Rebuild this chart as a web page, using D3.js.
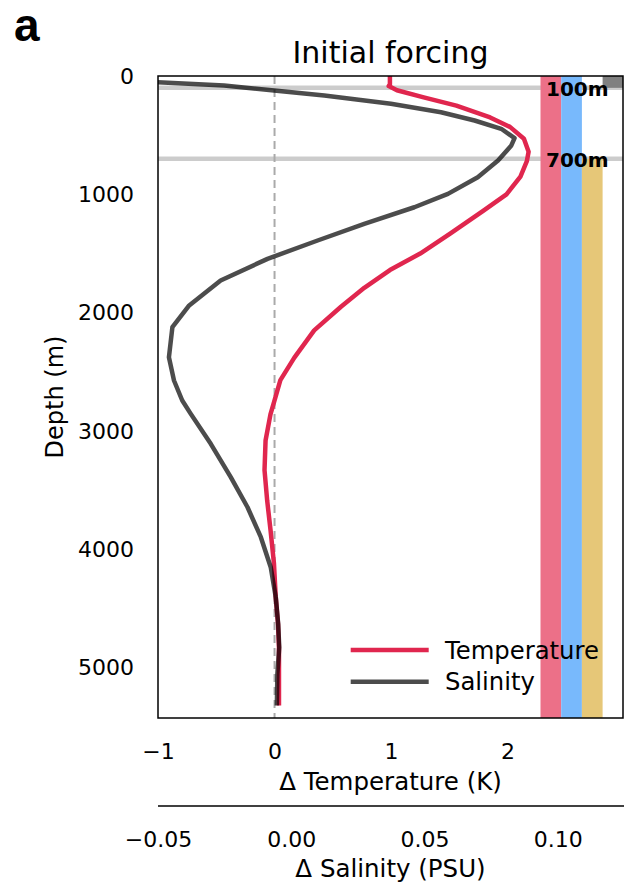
<!DOCTYPE html>
<html>
<head>
<meta charset="utf-8">
<script src="https://cdn.jsdelivr.net/npm/d3@7"></script>
<style>
  body { margin: 0; background: white; }
  svg text { font-family: "DejaVu Sans", sans-serif; fill: #000; }
</style>
</head>
<body>
<svg id="chart" width="624" height="885"></svg>
<script>
// depth (m) and temperature anomaly (K)
var tempDepth = [0, 70, 85, 120, 180, 250, 350, 430, 530, 640, 720, 850, 1000, 1140, 1330, 1500, 1640, 1790, 1950, 2150, 2380, 2570, 2740, 2860, 3080, 3330, 3590, 3840, 4120, 4400, 4630, 4830, 5050, 5320];
var tempAnom = [0.99, 0.99, 0.98, 1.05, 1.28, 1.56, 1.85, 2.02, 2.14, 2.18, 2.165, 2.11, 1.99, 1.79, 1.51, 1.25, 0.99, 0.77, 0.57, 0.34, 0.17, 0.05, 0.0, -0.035, -0.077, -0.086, -0.063, -0.034, -0.005, 0.01, 0.03, 0.038, 0.038, 0.038];

// depth (m) and salinity anomaly (PSU)
var salDepth = [0, 52, 80, 123, 165, 235, 306, 376, 446, 525, 587, 714, 855, 996, 1109, 1249, 1390, 1545, 1728, 1939, 2123, 2376, 2573, 2742, 2855, 3108, 3390, 3644, 3897, 4151, 4405, 4630, 4827, 5052, 5320];
var salAnom = [-0.09, -0.0503, -0.0252, -0.0064, 0.0124, 0.0374, 0.0562, 0.0688, 0.0788, 0.0838, 0.0826, 0.0776, 0.070, 0.0588, 0.0462, 0.0274, 0.0099, -0.0089, -0.0265, -0.0383, -0.0446, -0.0459, -0.044, -0.0409, -0.0377, -0.0302, -0.0227, -0.0164, -0.0114, -0.0077, -0.0058, -0.0049, -0.0045, -0.0052, -0.0054];

// tick labels
var depthTicks = [0, 1000, 2000, 3000, 4000, 5000];
var tempTicks = [-1, 0, 1, 2];
var salTicks = [-0.05, 0.00, 0.05, 0.10];

// reference depths marked with grey lines
var refDepths = [100, 700];
var refLabels = ["100m", "700m"];

// coloured depth-range bars on the right (top, bottom in m)
var barNames = ["full", "full2", "deep", "upper"];
var barTops = [0, 0, 700, 0];
var barBottoms = [5425, 5425, 5425, 100];
var barColors = ["#ec7088", "#78b9fc", "#e6c778", "#808080"];

var seriesNames = ["Temperature", "Salinity"];

function drawChart(){
  var svg = d3.select("#chart");
  var pLeft = 158, pRight = 623, pTop = 76, pBottom = 718;

  var y = d3.scaleLinear().domain([0, 5425]).range([pTop, pBottom]);
  var xT = d3.scaleLinear().domain([-1, 2.99]).range([pLeft, pRight]);
  var xS = d3.scaleLinear().domain([-0.05, 0.1245]).range([pLeft, pRight]);
  var xBar = d3.scaleBand().domain(barNames).range([540.5, 623.3]);

  svg.append("defs").append("clipPath").attr("id", "plotClip")
    .append("rect").attr("x", pLeft).attr("y", pTop).attr("width", pRight - pLeft).attr("height", pBottom - pTop);

  var plot = svg.append("g").attr("clip-path", "url(#plotClip)");

  // grey reference lines, under the bars
  plot.selectAll(".ref").data(refDepths).enter().append("line")
    .attr("x1", pLeft).attr("x2", pRight)
    .attr("y1", function(d){ return y(d); }).attr("y2", function(d){ return y(d); })
    .attr("stroke", "#000").attr("stroke-opacity", 0.2).attr("stroke-width", 4.5);

  // zero line
  plot.append("line")
    .attr("x1", xT(0)).attr("x2", xT(0)).attr("y1", pTop).attr("y2", pBottom)
    .attr("stroke", "#aaa").attr("stroke-width", 2).attr("stroke-dasharray", "8,5");

  // depth range bars
  plot.selectAll(".bar").data(barNames).enter().append("rect")
    .attr("x", function(d){ return xBar(d); })
    .attr("width", xBar.bandwidth())
    .attr("y", function(d, i){ return y(barTops[i]); })
    .attr("height", function(d, i){ return y(barBottoms[i]) - y(barTops[i]); })
    .attr("fill", function(d, i){ return barColors[i]; });

  svg.selectAll(".refLabel").data(refDepths).enter().append("text")
    .attr("x", 546).attr("y", function(d){ return y(d) + 8; })
    .style("font-weight", "bold").style("font-size", "20px")
    .text(function(d, i){ return refLabels[i]; });

  // profiles
  var tempLine = d3.line()
    .x(function(d){ return xT(tempAnom[d]); })
    .y(function(d){ return y(tempDepth[d]); });
  var salLine = d3.line()
    .x(function(d){ return xS(salAnom[d]); })
    .y(function(d){ return y(salDepth[d]); });

  plot.append("path").attr("d", tempLine(d3.range(tempDepth.length)))
    .attr("fill", "none").attr("stroke", "#e0264e").attr("stroke-width", 4.5)
    .attr("stroke-linejoin", "round");
  plot.append("path").attr("d", salLine(d3.range(salDepth.length)))
    .attr("fill", "none").attr("stroke", "#000").attr("stroke-opacity", 0.7).attr("stroke-width", 4.5)
    .attr("stroke-linejoin", "round");

  // legend
  var legend = svg.append("g");
  var legendColors = ["#e0264e", "rgba(0,0,0,0.7)"];
  var legendY = [650, 681.7];
  legend.selectAll("line").data(seriesNames).enter().append("line")
    .attr("x1", 350.7).attr("x2", 428.7)
    .attr("y1", function(d, i){ return legendY[i]; }).attr("y2", function(d, i){ return legendY[i]; })
    .attr("stroke", function(d, i){ return legendColors[i]; }).attr("stroke-width", 4.5);
  legend.selectAll("text").data(seriesNames).enter().append("text")
    .attr("x", 445).attr("y", function(d, i){ return legendY[i] + 8.7; })
    .style("font-size", "24.3px")
    .text(function(d){ return d; });

  // frame
  svg.append("rect").attr("x", pLeft).attr("y", pTop).attr("width", pRight - pLeft).attr("height", pBottom - pTop)
    .attr("fill", "none").attr("stroke", "#000").attr("stroke-width", 1.5);

  // axes
  var yAxis = svg.append("g").attr("transform", "translate(" + pLeft + ",0)")
    .call(d3.axisLeft(y).tickValues(depthTicks).tickSize(0).tickPadding(24).tickFormat(d3.format("d")));
  var tAxis = svg.append("g").attr("transform", "translate(0," + pBottom + ")")
    .call(d3.axisBottom(xT).tickValues(tempTicks).tickSize(0).tickPadding(25).tickFormat(d3.format("d")));
  var sAxis = svg.append("g").attr("transform", "translate(0,806)")
    .call(d3.axisBottom(xS).tickValues(salTicks).tickSize(0).tickSizeOuter(0).tickPadding(25).tickFormat(d3.format(".2f")));

  [yAxis, tAxis].forEach(function(a){ a.select(".domain").remove(); });
  sAxis.select(".domain").attr("stroke-width", 1.5).attr("d", "M" + pLeft + ",0H624");
  [yAxis, tAxis, sAxis].forEach(function(a){
    a.selectAll("text").style("font-size", "22px").style("font-family", "DejaVu Sans");
  });

  // titles and labels
  svg.append("text").attr("x", (pLeft + pRight) / 2).attr("y", 63)
    .attr("text-anchor", "middle").style("font-size", "30px").text("Initial forcing");
  svg.append("text").attr("x", 14).attr("y", 41)
    .style("font-family", "'Liberation Sans', Arial, sans-serif").style("font-weight", "bold").style("font-size", "46px")
    .text("a");
  svg.append("text").attr("transform", "translate(63," + ((pTop + pBottom) / 2) + ") rotate(-90)")
    .attr("text-anchor", "middle").style("font-size", "24px").text("Depth (m)");
  svg.append("text").attr("x", (pLeft + pRight) / 2).attr("y", 790)
    .attr("text-anchor", "middle").style("font-size", "24.5px").text("Δ Temperature (K)");
  svg.append("text").attr("x", (pLeft + pRight) / 2).attr("y", 877)
    .attr("text-anchor", "middle").style("font-size", "24.5px").text("Δ Salinity (PSU)");
}

drawChart();
</script>
</body>
</html>
